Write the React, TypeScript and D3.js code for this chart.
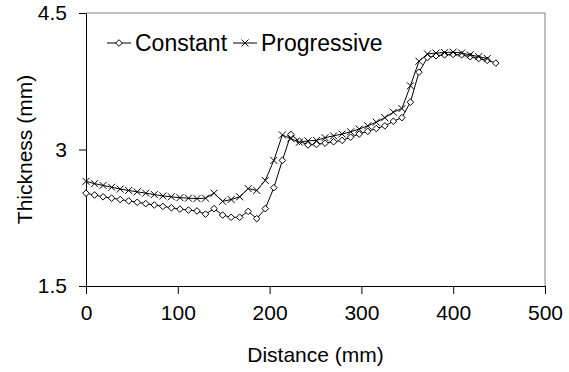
import React, { useEffect, useRef } from "react";
import * as d3 from "d3";

// distance along the part (mm)
const distance = [
  0, 9.3, 18.6, 27.9, 37.2, 46.5, 55.8, 65.1, 74.4, 83.7, 93, 102.3, 111.6, 120.9,
  130.2, 139.5, 148.8, 158.1, 167.4, 176.7, 186, 195.3, 204.6, 213.9, 223.2, 232.5,
  241.8, 251.1, 260.4, 269.7, 279, 288.3, 297.6, 306.9, 316.2, 325.5, 334.8, 344.1,
  353.4, 362.7, 372, 381.3, 390.6, 399.9, 409.2, 418.5, 427.8, 437.1, 446.4,
];

// thickness (mm)
const constant = [
  2.52, 2.5, 2.48, 2.465, 2.45, 2.435, 2.42, 2.405, 2.39, 2.375, 2.36, 2.345, 2.335,
  2.325, 2.29, 2.35, 2.28, 2.255, 2.255, 2.32, 2.24, 2.35, 2.58, 2.88, 3.165, 3.09,
  3.05, 3.055, 3.07, 3.085, 3.1, 3.135, 3.17, 3.2, 3.23, 3.26, 3.31, 3.35, 3.52, 3.85,
  4.01, 4.03, 4.04, 4.045, 4.04, 4.02, 4.0, 3.98, 3.95,
];

const progressive = [
  2.65, 2.625, 2.605, 2.585, 2.565, 2.55, 2.535, 2.52, 2.505, 2.49, 2.48, 2.47, 2.465,
  2.46, 2.465, 2.52, 2.43, 2.45, 2.48, 2.57, 2.55, 2.66, 2.88, 3.16, 3.12, 3.08, 3.095,
  3.1, 3.13, 3.15, 3.17, 3.195, 3.225, 3.26, 3.3, 3.35, 3.41, 3.45, 3.7, 3.97, 4.05,
  4.06, 4.065, 4.07, 4.06, 4.04, 4.02, 4.0,
];

const xTicks = [0, 100, 200, 300, 400, 500];
const yTicks = [1.5, 3, 4.5];

const App = () => {
  const svgRef = useRef<SVGSVGElement>(null);

  useEffect(() => {
    const width = 569;
    const height = 372;
    const margin = { top: 13, right: 24, bottom: 86, left: 86 };
    const font = "'Liberation Sans', Arial, sans-serif";

    const svg = d3.select(svgRef.current);
    svg.selectAll("*").remove();

    const x = d3.scaleLinear().domain([0, 500]).range([margin.left, width - margin.right]);
    const y = d3.scaleLinear().domain([1.5, 4.5]).range([height - margin.bottom, margin.top]);

    // plot area frame (top and right)
    svg.append("path")
      .attr("d", `M${x(0)},${y(4.5)}H${x(500)}V${y(1.5)}`)
      .attr("fill", "none")
      .attr("stroke", "#808080");

    // x axis
    const gx = svg.append("g")
      .attr("transform", `translate(0,${y(1.5)})`)
      .call(d3.axisBottom(x).tickValues(xTicks).tickSize(8).tickPadding(11).tickSizeOuter(0).tickFormat(d3.format("d")));
    gx.attr("font-family", font).attr("font-size", 21);
    gx.selectAll("line, path").attr("stroke", "#000");
    gx.selectAll("text").attr("fill", "#000");

    // y axis
    const gy = svg.append("g")
      .attr("transform", `translate(${x(0)},0)`)
      .call(d3.axisLeft(y).tickValues(yTicks).tickSize(7).tickPadding(12).tickSizeOuter(0).tickFormat((d) => String(d)));
    gy.attr("font-family", font).attr("font-size", 21);
    gy.selectAll("line, path").attr("stroke", "#000");
    gy.selectAll("text").attr("fill", "#000");

    // axis titles
    svg.append("text")
      .attr("x", (x(0) + x(500)) / 2)
      .attr("y", 362)
      .attr("text-anchor", "middle")
      .attr("font-family", font)
      .attr("font-size", 21)
      .text("Distance (mm)");

    svg.append("text")
      .attr("transform", `translate(32,${(y(1.5) + y(4.5)) / 2}) rotate(-90)`)
      .attr("text-anchor", "middle")
      .attr("font-family", font)
      .attr("font-size", 21)
      .text("Thickness (mm)");

    const line = d3.line<number>()
      .x((d, i) => x(distance[i]))
      .y((d) => y(d));

    const diamond = "M0,-3.3L3.3,0L0,3.3L-3.3,0Z";
    const cross = "M-3.5,-3.5L3.5,3.5M-3.5,3.5L3.5,-3.5";

    // constant series
    svg.append("path")
      .datum(constant)
      .attr("fill", "none")
      .attr("stroke", "#000")
      .attr("stroke-width", 1)
      .attr("d", line);
    svg.append("g")
      .selectAll("path")
      .data(constant)
      .enter()
      .append("path")
      .attr("transform", (d, i) => `translate(${x(distance[i])},${y(d)})`)
      .attr("d", diamond)
      .attr("fill", "#fff")
      .attr("stroke", "#000");

    // progressive series
    svg.append("path")
      .datum(progressive)
      .attr("fill", "none")
      .attr("stroke", "#000")
      .attr("stroke-width", 1)
      .attr("d", line);
    svg.append("g")
      .selectAll("path")
      .data(progressive)
      .enter()
      .append("path")
      .attr("transform", (d, i) => `translate(${x(distance[i])},${y(d)})`)
      .attr("d", cross)
      .attr("fill", "none")
      .attr("stroke", "#000");

    // legend
    const legend = [
      { name: "Constant", marker: diamond, fill: "#fff", x0: 107 },
      { name: "Progressive", marker: cross, fill: "none", x0: 233 },
    ];
    const lg = svg.append("g").attr("transform", "translate(0,43)");
    legend.forEach((l) => {
      lg.append("line").attr("x1", l.x0).attr("x2", l.x0 + 24).attr("stroke", "#000");
      lg.append("path")
        .attr("transform", `translate(${l.x0 + 12},0)`)
        .attr("d", l.marker)
        .attr("fill", l.fill)
        .attr("stroke", "#000");
      lg.append("text")
        .attr("x", l.x0 + 28)
        .attr("y", 8)
        .attr("font-family", font)
        .attr("font-size", 23)
        .text(l.name);
    });
  }, []);

  return (
    <svg
      ref={svgRef}
      width={569}
      height={372}
      style={{ position: "absolute", left: 0, top: 0, background: "#fff" }}
    ></svg>
  );
};

export default App;
